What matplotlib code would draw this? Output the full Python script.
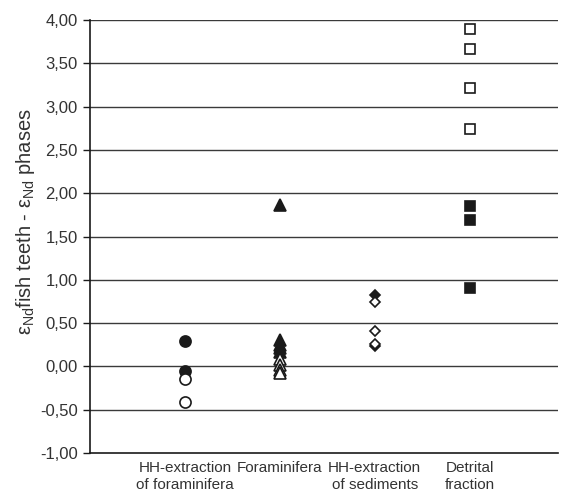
import matplotlib
matplotlib.use('Agg')
import matplotlib.pyplot as plt

plt.rcParams['font.family'] = ['Liberation Sans', 'DejaVu Sans']
plt.rcParams['mathtext.fontset'] = 'custom'
plt.rcParams['mathtext.rm'] = 'Liberation Sans'

categories = ['HH-extraction\nof foraminifera', 'Foraminifera',
              'HH-extraction\nof sediments', 'Detrital\nfraction']

# values per category: filled and open markers
circ_filled = [0.29, -0.05]
circ_open = [-0.15, -0.41]
tri_filled = [1.86, 0.31, 0.25, 0.21, 0.17]
tri_open = [0.08, 0.02, -0.04, -0.08]
dia_filled = [0.82, 0.23]
dia_open = [0.74, 0.41, 0.26]
sq_filled = [1.85, 1.69, 0.91]
sq_open = [3.90, 3.67, 3.22, 2.74]

yticks = [-1.0, -0.5, 0.0, 0.5, 1.0, 1.5, 2.0, 2.5, 3.0, 3.5, 4.0]

fig = plt.figure(figsize=(5.63, 4.92), dpi=100)
ax = fig.add_axes([0.160, 0.0793, 0.831, 0.8800])

def pts(i, vals, marker, filled, ms):
    ax.plot([i] * len(vals), vals, linestyle='none', marker=marker, markersize=ms,
            markerfacecolor='#1a1a1a' if filled else 'white',
            markeredgecolor='#1a1a1a', markeredgewidth=1.2, zorder=3)

pts(1, circ_filled, 'o', True, 8)
pts(1, circ_open, 'o', False, 8)
pts(2, tri_filled, '^', True, 8)
pts(2, tri_open, '^', False, 8)
pts(3, dia_filled, 'D', True, 5.5)
pts(3, dia_open, 'D', False, 5.5)
pts(4, sq_filled, 's', True, 7.5)
pts(4, sq_open, 's', False, 7.5)

ax.set_xlim(0, 4.93)
ax.set_ylim(-1.0, 4.0)
ax.set_yticks(yticks)
ax.set_yticklabels([('%.2f' % v).replace('.', ',') for v in yticks], fontsize=12, color='#333333')
ax.set_xticks([1, 2, 3, 4])
ax.set_xticklabels(categories, fontsize=11, color='#333333', linespacing=1.3)
ax.tick_params(axis='x', length=0, pad=5.5)
ax.tick_params(axis='y', length=5, width=1, color='#1a1a1a', direction='out', pad=4)

for v in yticks[1:]:
    ax.axhline(v, color='#3a3a3a', linewidth=1.0, zorder=1)

for s in ['top', 'right']:
    ax.spines[s].set_visible(False)
ax.spines['left'].set_color('#1a1a1a')
ax.spines['bottom'].set_color('#1a1a1a')
ax.spines['left'].set_linewidth(1.2)
ax.spines['bottom'].set_linewidth(1.2)

fig.text(26 / 563, 1 - 222 / 492,
         'ε$_{\\mathrm{Nd}}$fish teeth - ε$_{\\mathrm{Nd}}$ phases',
         rotation=90, ha='center', va='center', fontsize=14.5, color='#333333')

fig.savefig('out.png', dpi=100)
